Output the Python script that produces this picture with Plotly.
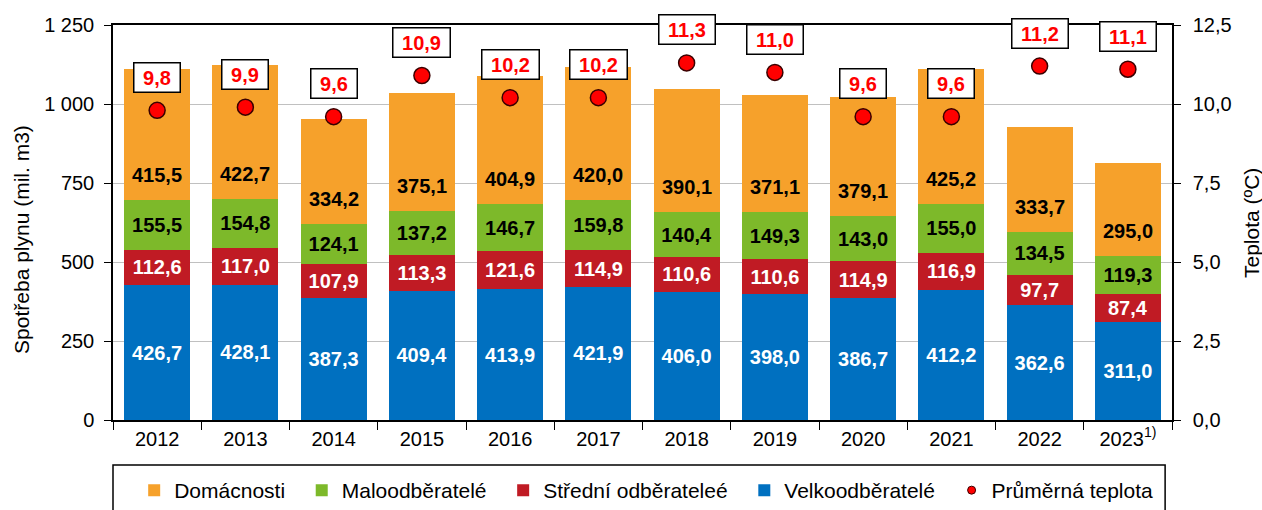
import plotly.graph_objects as go

years = ["2012", "2013", "2014", "2015", "2016", "2017", "2018", "2019", "2020", "2021", "2022", "2023<sup>1)</sup>"]
velko = [426.7, 428.1, 387.3, 409.4, 413.9, 421.9, 406.0, 398.0, 386.7, 412.2, 362.6, 311.0]
stredni = [112.6, 117.0, 107.9, 113.3, 121.6, 114.9, 110.6, 110.6, 114.9, 116.9, 97.7, 87.4]
malo = [155.5, 154.8, 124.1, 137.2, 146.7, 159.8, 140.4, 149.3, 143.0, 155.0, 134.5, 119.3]
domacnosti = [415.5, 422.7, 334.2, 375.1, 404.9, 420.0, 390.1, 371.1, 379.1, 425.2, 333.7, 295.0]
teplota = [9.8, 9.9, 9.6, 10.9, 10.2, 10.2, 11.3, 11.0, 9.6, 9.6, 11.2, 11.1]

y_ticks = [0, 250, 500, 750, 1000, 1250]
y_ticktext = ["0", "250", "500", "750", "1 000", "1 250"]
y2_ticks = [0, 2.5, 5, 7.5, 10, 12.5]
y2_ticktext = ["0,0", "2,5", "5,0", "7,5", "10,0", "12,5"]

FONT = "Arial, Liberation Sans, sans-serif"
GAP = "\u00a0\u00a0"


def fmt(v):
    return f"{v:.1f}".replace(".", ",")


fig = go.Figure()

series = [
    ("Velkoodběratelé", velko, "#0070C0", "white", 4),
    ("Střední odběrateleé", stredni, "#C01B24", "white", 3),
    ("Maloodběratelé", malo, "#7DB92A", "black", 2),
    ("Domácnosti", domacnosti, "#F6A12B", "black", 1),
]
for name, vals, color, tcolor, rank in series:
    show_text = name != "Domácnosti"
    fig.add_trace(go.Bar(
        x=years, y=vals, name=name + GAP, marker_color=color, marker_line_width=0,
        text=[fmt(v) for v in vals] if show_text else None,
        textposition="inside" if show_text else "none",
        insidetextanchor="middle",
        textangle=0, constraintext="none",
        textfont=dict(family=FONT, size=20, color=tcolor, weight="bold"),
        legendrank=rank,
    ))

# Domácnosti labels sit near the base of the orange segment
for i, (v, s, m, d) in enumerate(zip(velko, stredni, malo, domacnosti)):
    fig.add_annotation(
        x=i, y=v + s + m, xref="x", yref="y", text=fmt(d), showarrow=False,
        yshift=25, font=dict(family=FONT, size=20, color="black", weight="bold"),
    )

fig.add_trace(go.Scatter(
    x=years, y=teplota, yaxis="y2", mode="markers", name="Průměrná teplota",
    marker=dict(color="#FF0000", size=16, line=dict(color="#3A0000", width=1.5)),
    showlegend=False,
))
# legend-only entry with a smaller symbol
fig.add_trace(go.Scatter(
    x=[years[0]], y=[None], yaxis="y2", mode="markers", name="Průměrná teplota",
    marker=dict(color="#FF0000", size=8, line=dict(color="#3A0000", width=1)),
    legendrank=5,
))

for i, t in enumerate(teplota):
    fig.add_annotation(
        x=i, y=t, yref="y2", xref="x", text="\u00a0" + fmt(t) + "\u00a0",
        showarrow=False, yshift=33,
        font=dict(family=FONT, size=20, color="#FF0000", weight="bold"),
        bgcolor="white", bordercolor="black", borderwidth=1.5, borderpad=3,
    )

# axis titles
fig.add_annotation(text="Spotřeba plynu (mil. m3)", textangle=-90, showarrow=False,
                   xref="paper", yref="paper", x=-0.0859, y=0.456,
                   xanchor="center", yanchor="middle",
                   font=dict(family=FONT, size=21, color="black"))
fig.add_annotation(text="Teplota (ºC)", textangle=-90, showarrow=False,
                   xref="paper", yref="paper", x=1.0746, y=0.4987,
                   xanchor="center", yanchor="middle",
                   font=dict(family=FONT, size=21, color="black"))

# legend frame
fig.add_shape(type="rect", xref="paper", yref="paper",
              x0=0, x1=0.9935, y0=-0.114, y1=-0.25,
              line=dict(color="black", width=1.5), fillcolor="white", layer="below")

fig.update_layout(
    width=1262, height=510,
    margin=dict(l=113, r=90, t=25, b=90, autoexpand=False),
    barmode="stack", bargap=0.25,
    plot_bgcolor="white", paper_bgcolor="white",
    font=dict(family=FONT, size=20, color="black"),
    showlegend=True,
    legend=dict(
        orientation="h", x=0.02, xanchor="left", xref="paper",
        y=1 - 470 / 510, yanchor="top", yref="container",
        borderwidth=0, bgcolor="rgba(0,0,0,0)", font=dict(size=21),
        traceorder="normal",
    ),
    xaxis=dict(
        type="category", range=[-0.5, len(years) - 0.5], automargin=False,
        showline=True, linecolor="black", linewidth=1.5, mirror=True,
        ticks="outside", tickson="boundaries", ticklen=8, tickcolor="black",
        tickfont=dict(size=20),
    ),
    yaxis=dict(
        range=[0, 1250], tickvals=y_ticks, ticktext=y_ticktext, automargin=False,
        showline=True, linecolor="black", linewidth=1.5,
        ticks="outside", ticklen=7, tickcolor="black", tickfont=dict(size=20),
        ticklabelstandoff=6,
        showgrid=True, gridcolor="#C0C0C0", gridwidth=1, zeroline=False,
    ),
    yaxis2=dict(
        range=[0, 12.5], tickvals=y2_ticks, ticktext=y2_ticktext, automargin=False,
        overlaying="y", side="right",
        showline=True, linecolor="black", linewidth=1.5,
        ticks="outside", ticklen=7, tickcolor="black", tickfont=dict(size=20),
        ticklabelstandoff=8,
        showgrid=False, zeroline=False,
    ),
)

fig.write_html("out.html")
